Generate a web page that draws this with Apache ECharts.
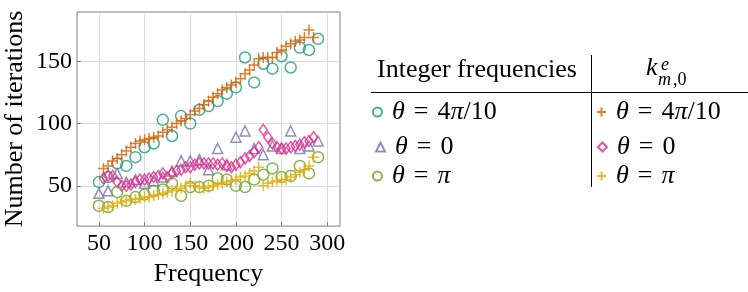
<!DOCTYPE html>
<html>
<head>
<meta charset="utf-8">
<script src="https://cdn.jsdelivr.net/npm/echarts@6/dist/echarts.min.js"></script>
<style>html,body{margin:0;padding:0;background:#fff;}#c{width:748px;height:292px;}</style>
</head>
<body>
<div id="c"></div>
<script>
// Integer frequencies
const freqInt = [50,60,70,80,90,100,110,120,130,140,150,160,170,180,190,200,210,220,230,240,250,260,270,280,290];
const intTheta4pi10 = [53,57,68,66,73,81,84,103,90,106,100,111,114,118,124,129,153,133,148,144,154,145,161,159,168];
const intTheta0 = [44,46,60,53,55,52,54,57,62,70,70,71,63,80,67,89,94,80,75,82,80,94,80,82,86];
const intThetaPi = [34,33,45,38,41,43,46,47,52,42,49,49,50,56,55,50,49,55,59,64,57,58,66,60,73];
// k^e_{m,0} frequencies
const freqK = [55,60,65,70,75,80,85,90,95,100,105,110,115,120,125,130,135,140,145,150,155,160,165,170,175,180,185,190,195,200,205,210,215,220,225,230,235,240,245,250,255,260,265,270,275,280,285];
const kTheta4pi10 = [64,66,70,72,75,78,81,84,86,87,88,89,90,93,95,97,100,102,104,107,110,112,115,118,121,124,127,129,131,133,136,140,143,147,152,153,153,153,157,159,162,164,166,167,169,175,169];
const kTheta0 = [56,58,58,53,50,50,51,53,55,55,56,57,58,60,57,60,62,63,65,65,67,68,68,68,68,67,68,66,65,67,69,72,74,77,81,95,89,84,81,80,80,81,82,83,85,86,89];
const kThetaPi = [32,33,34,36,37,38,39,39,40,41,41,42,43,44,45,46,47,48,50,52,50,49,48,49,50,51,52,53,54,55,57,58,60,62,65,50,52,53,54,55,55,57,59,61,63,66,73];
// ticks
const xTicks = [50,100,150,200,250,300];
const yTicks = [50,100,150];

const C = {teal:'#1b9e77', orange:'#d95f02', purple:'#7570b3', pink:'#e7298a', green:'#66a61e', yellow:'#e6ab02'};
const FONT = 'Liberation Serif';
const PLUS = 'path://M5,0L5,10M0,5L10,5';

function pairs(xs, ys){ return xs.map((x,i)=>[x, ys[i]]); }

const names = {
  int_a: '{g| }{i|θ}{eq|=}4{i|π}/10',
  int_b: '{g| }{i|θ}{eq|=}0',
  int_c: '{g| }{i|θ}{eq|=}{i|π}',
  k_a: '{g| }{i|θ}{eq|=}4{i|π}/10',
  k_b: '{g| }{i|θ}{eq|=}0',
  k_c: '{g| }{i|θ}{eq|=}{i|π}'
};
const LF = 26;
const legendText = {
  fontFamily: FONT, fontSize: LF, color: '#000',
  rich: {
    i: {fontFamily: FONT, fontSize: LF, fontStyle: 'italic', color:'#000'},
    eq: {fontFamily: FONT, fontSize: LF, color:'#000', padding:[0,9,0,9]},
    g: {fontFamily: FONT, fontSize: LF, width: 5}
  }
};
function leg(name, left, top){
  return {left: left, top: top, orient:'horizontal', padding:0, itemWidth:9, itemHeight:9,
    selectedMode:false, data:[name], formatter: n => names[n], textStyle: legendText};
}

function series(name, xs, ys, symbol, size, color){
  return {name: name, type:'scatter', data: pairs(xs, ys), symbol: symbol, symbolSize: size,
    itemStyle: {color: 'rgba(0,0,0,0)', borderColor: color, borderWidth: 1.5},
    emphasis: {disabled: true}, z: 3};
}

const chart = echarts.init(document.getElementById('c'), null, {renderer:'canvas'});
chart.setOption({
  animation: false,
  textStyle: {fontFamily: FONT},
  grid: {left: 77, right: 408, top: 12, bottom: 62, show: true, borderColor: '#7f7f7f', borderWidth: 1, backgroundColor: 'transparent'},
  xAxis: {
    type: 'value', min: 26, max: 314,
    name: 'Frequency', nameLocation: 'middle', nameGap: 30,
    nameTextStyle: {fontFamily: FONT, fontSize: 26, color: '#000'},
    axisLine: {show: false},
    axisTick: {show: true, inside: true, length: 4, lineStyle: {color: '#7f7f7f'}, customValues: xTicks},
    axisLabel: {fontFamily: FONT, fontSize: 24, color: '#000', margin: 6, customValues: xTicks},
    splitLine: {show: true, lineStyle: {color: '#dcdcdc', width: 1}}
  },
  yAxis: {
    type: 'value', min: 17.7, max: 189.5,
    name: 'Number of iterations', nameLocation: 'middle', nameGap: 49,
    nameTextStyle: {fontFamily: FONT, fontSize: 26, color: '#000'},
    axisLine: {show: false},
    axisTick: {show: true, inside: true, length: 4, lineStyle: {color: '#7f7f7f'}, customValues: yTicks},
    axisLabel: {fontFamily: FONT, fontSize: 24, color: '#000', margin: 5, customValues: yTicks},
    splitLine: {show: true, lineStyle: {color: '#dcdcdc', width: 1}}
  },
  legend: [
    leg('int_a', 372, 99), leg('int_b', 375, 134), leg('int_c', 372, 163),
    leg('k_a', 596, 99), leg('k_b', 597, 134), leg('k_c', 596, 163)
  ],
  graphic: [
    {type:'text', left: 377, top: 57, style: {text: 'Integer frequencies', fontFamily: FONT, fontSize: 26, fill: '#000'}},
    {type:'text', left: 646, top: 55, style: {text: 'k', fontFamily: FONT, fontStyle: 'italic', fontSize: 26, fill: '#000'}},
    {type:'text', left: 661, top: 56, style: {text: 'e', fontFamily: FONT, fontStyle: 'italic', fontSize: 18, fill: '#000'}},
    {type:'text', left: 658, top: 71, style: {text: 'm', fontFamily: FONT, fontStyle: 'italic', fontSize: 18, fill: '#000'}},
    {type:'text', left: 673, top: 71, style: {text: ',0', fontFamily: FONT, fontSize: 18, fill: '#000'}},
    {type:'line', shape: {x1: 371, y1: 92.5, x2: 748, y2: 92.5}, style: {stroke: '#000', lineWidth: 1}},
    {type:'line', shape: {x1: 591.5, y1: 55, x2: 591.5, y2: 187}, style: {stroke: '#000', lineWidth: 1}}
  ],
  series: [
    series('int_a', freqInt, intTheta4pi10, 'circle', 11, C.teal),
    series('k_a', freqK, kTheta4pi10, PLUS, 11, C.orange),
    series('int_b', freqInt, intTheta0, 'triangle', 10, C.purple),
    series('k_b', freqK, kTheta0, 'diamond', [8, 11], C.pink),
    series('int_c', freqInt, intThetaPi, 'circle', 11, C.green),
    series('k_c', freqK, kThetaPi, PLUS, 11, C.yellow)
  ]
});
</script>
</body>
</html>
